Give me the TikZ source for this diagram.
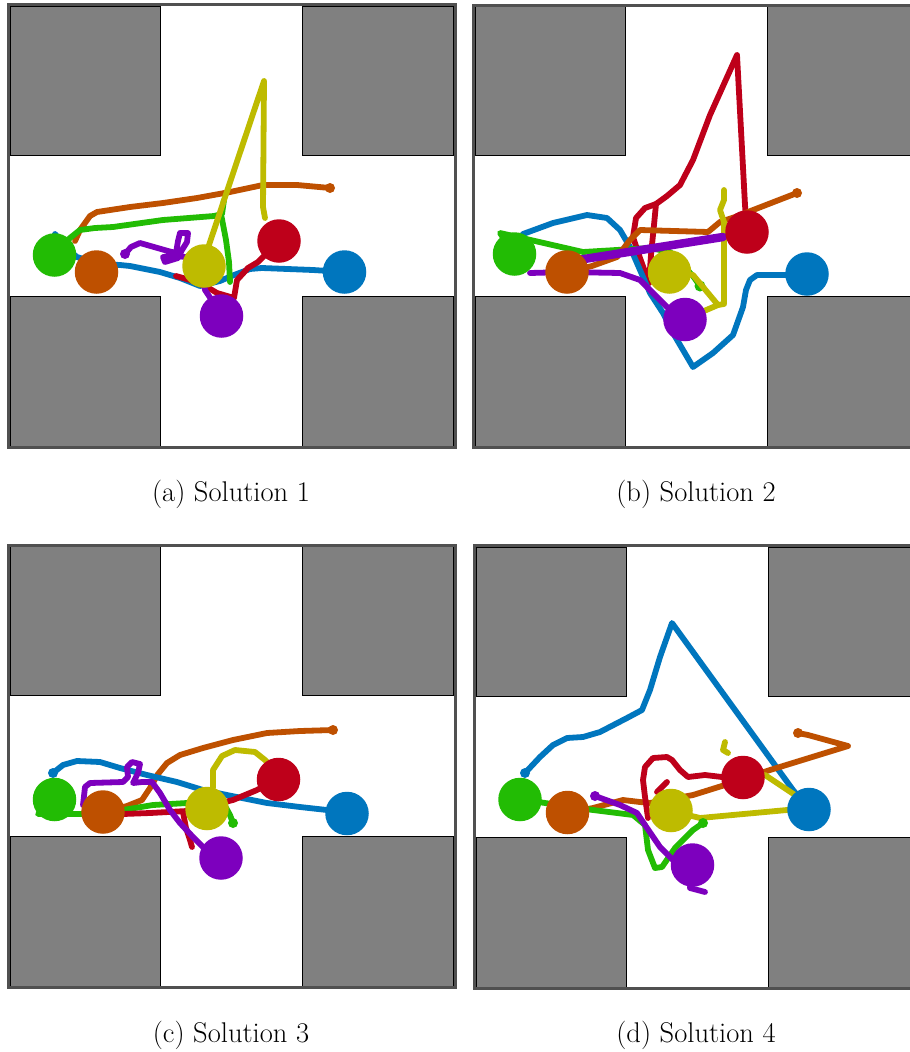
\documentclass[tikz,border=0pt]{standalone}
\definecolor{rgreen}{RGB}{34,188,4}
\definecolor{rorange}{RGB}{190,80,0}
\definecolor{ryellow}{RGB}{190,187,0}
\definecolor{rred}{RGB}{190,0,26}
\definecolor{rblue}{RGB}{0,118,190}
\definecolor{rpurple}{RGB}{125,0,190}
\definecolor{blockgray}{RGB}{128,128,128}
\definecolor{framegray}{RGB}{80,80,80}
\newcommand\drawarena{%
  \fill[white] (8.5,4.5) rectangle (455,447);
  \draw[blk] (10,6) rectangle (160.5,155);
  \draw[blk] (302,6) rectangle (453,155);
  \draw[blk] (10,296) rectangle (160.5,446);
  \draw[blk] (302,296) rectangle (453,446);
  \draw[frm] (8.5,4.5) rectangle (455,447);
}
\begin{document}
\begin{tikzpicture}[x=1pt,y=-1pt,
  traj/.style={line width=5.8pt,line join=round,line cap=round},
  bar/.style={line width=8.5pt,line join=round,line cap=round},
  robot/.style={circle,inner sep=0pt,minimum size=43.5pt},
  dot/.style={circle,inner sep=0pt,minimum size=10pt},
  blk/.style={fill=blockgray,draw=black,line width=0.8pt},
  frm/.style={draw=framegray,line width=3pt},
  captxt/.style={font=\fontsize{28.5}{32}\selectfont}]
\useasboundingbox (0,0) rectangle (910,1052);
\clip (0,0) rectangle (910,1052);
\fill[white] (0,0) rectangle (910,1052);
% arenas
\begin{scope}\drawarena\end{scope}
\begin{scope}[shift={(465,0.5)}]\drawarena\end{scope}
\begin{scope}[shift={(0,540.5)}]\drawarena\end{scope}
\begin{scope}[shift={(466,541)}]\drawarena\end{scope}

% ===== (a) =====
\draw[traj,rblue] (55,234) -- (66,248) -- (77,257) -- (100,264) -- (120,265) -- (130,266) -- (160,272) -- (180,278) -- (200,286) -- (220,281) -- (234,275) -- (250,269) -- (262,268) -- (313,270) -- (344,272);
\draw[traj,rorange] (75,241) -- (80,230) -- (90,216) -- (97,212) -- (130,207) -- (163,203) -- (197,198) -- (230,192) -- (263,185) -- (297,185) -- (330,188);
\node[dot,fill=rorange] (aoe) at (330,188) {};
\draw[traj,rgreen] (54,255) -- (70,238) -- (80,230) -- (95,228) -- (113,227) -- (163,220) -- (214,216) -- (222,214) -- (224,200) -- (221,214) -- (226,240) -- (229,262) -- (230,282);
\draw[traj,ryellow] (204,266) -- (209,245) -- (264,81) -- (263,207) -- (265,218);
\draw[traj,rred] (279,241) -- (258,262) -- (248,268) -- (237,280) -- (234,298) -- (217,293) -- (207,287) -- (190,280) -- (176,276);
\draw[traj,rpurple] (125,254) -- (131,247) -- (140,243) -- (168,251) -- (176,253) -- (178,241) -- (180,233) -- (188,233) -- (187,242) -- (182,250) -- (178,258) -- (165,262) -- (163,257) -- (176,256) -- (195,258) -- (203,275) -- (205,290) -- (215,305);
\node[dot,fill=rpurple] (aps) at (125,254) {};
\node[robot,fill=rgreen] (ag) at (54.5,255) {};
\node[robot,fill=rorange] (ao) at (96.5,272) {};
\node[robot,fill=ryellow] (ay) at (204,266) {};
\node[robot,fill=rred] (ar) at (279,241) {};
\node[robot,fill=rblue] (ab) at (344.5,272) {};
\node[robot,fill=rpurple] (ap) at (221.5,316) {};

% ===== (b) =====
\draw[traj,rred] (747,232) -- (745,205) -- (737,55) -- (710,115) -- (693,160) -- (680,185) -- (667,196) -- (656,204) -- (645,208) -- (636,218) -- (633,237) -- (640,258) -- (649,283);
\draw[traj,rred] (656,204) -- (654,225) -- (651,255) -- (649,283);
\draw[traj,rblue] (523,234) -- (553,223) -- (587,215) -- (607,218) -- (620,230) -- (630,247) -- (640,270) -- (650,293) -- (663,313) -- (673,333) -- (693,367) -- (713,353) -- (733,335) -- (743,307) -- (746,290) -- (750,280) -- (757,275) -- (787,275) -- (807,274);
\draw[traj,rgreen] (514,254) -- (500,233) -- (583,252) -- (650,248) -- (670,252) -- (693,276) -- (700,286);
\node[dot,fill=rgreen,minimum size=11pt] (bge) at (700,286) {};
\draw[traj,rorange] (567,272) -- (592,266) -- (617,257) -- (630,240) -- (640,230) -- (708,232) -- (720,222) -- (735,217) -- (797,193);
\node[dot,fill=rorange] (boe) at (797,193) {};
\draw[traj,ryellow] (669,272) -- (693,275) -- (708,293) -- (718,305) -- (724,304) -- (724,260) -- (724,222) -- (720,210) -- (724,200) -- (724,190);
\draw[traj,ryellow] (704,311) -- (718,305);
\draw[traj,rpurple] (530,273) -- (567,272) -- (620,273) -- (640,280) -- (653,293) -- (667,307) -- (685,319);
\draw[bar,rpurple] (578,260) -- (723,237);
\node[robot,fill=rgreen] (bg) at (514.5,254) {};
\node[robot,fill=rorange] (bo) at (567,272) {};
\node[robot,fill=ryellow] (by) at (669.5,272) {};
\node[robot,fill=rred] (br) at (747,232) {};
\node[robot,fill=rblue] (bb) at (807,274) {};
\node[robot,fill=rpurple] (bp) at (685,319.5) {};

% ===== (c) =====
\draw[traj,rorange] (103,812) -- (127,806) -- (142,800) -- (150,788) -- (158,774) -- (167,763) -- (180,755) -- (203,748) -- (233,740) -- (267,733) -- (300,731) -- (333,730);
\node[dot,fill=rorange] (coe) at (333,730) {};
\draw[traj,rblue] (53,773) -- (63,765) -- (77,761) -- (100,762) -- (120,768) -- (147,775) -- (177,782) -- (203,790) -- (227,795) -- (267,803) -- (300,807) -- (327,810) -- (347,813);
\node[dot,fill=rblue] (cbs) at (53,773) {};
\draw[traj,rgreen] (54,799) -- (38,814) -- (80,814) -- (123,810) -- (153,805) -- (187,803) -- (225,806) -- (230,815) -- (233,823);
\node[dot,fill=rgreen] (cge) at (233,823) {};
\draw[traj,rred] (278,779) -- (257,790) -- (233,800) -- (187,811) -- (150,813) -- (123,814);
\draw[traj,rred] (183,812) -- (186,828) -- (190,840) -- (192,847);
\draw[traj,rpurple] (83,805) -- (85,787) -- (90,783) -- (123,782) -- (128,777) -- (127,767) -- (132,762) -- (140,764) -- (138,773) -- (133,783) -- (142,782) -- (152,782) -- (160,793) -- (170,810) -- (180,823) -- (193,837) -- (203,847) -- (221,858);
\draw[traj,ryellow] (207,808) -- (213,787) -- (213,770) -- (222,756) -- (235,750) -- (255,752) -- (265,760) -- (275,770);
\node[robot,fill=rgreen] (cg) at (54.5,799.5) {};
\node[robot,fill=rorange] (co) at (103,812) {};
\node[robot,fill=ryellow] (cy) at (207,808.5) {};
\node[robot,fill=rred] (cr) at (278.5,779.5) {};
\node[robot,fill=rblue] (cb) at (347,813.5) {};
\node[robot,fill=rpurple] (cp) at (221,858) {};

% ===== (d) =====
\draw[traj,rblue] (525,773) -- (540,757) -- (553,745) -- (567,738) -- (583,737) -- (600,732) -- (627,718) -- (642,710) -- (650,690) -- (660,657) -- (672,623) -- (793,790) -- (809,809);
\node[dot,fill=rblue] (dbs) at (525,773) {};
\draw[traj,rorange] (567,813) -- (593,808) -- (623,800) -- (640,802) -- (650,803) -- (693,795) -- (725,785) -- (770,770) -- (848,746) -- (808,735) -- (798,733);
\node[dot,fill=rorange] (doe) at (798,733) {};
\draw[traj,rred] (743,777) -- (722,777) -- (705,775) -- (688,777) -- (680,770) -- (672,760) -- (667,757) -- (653,758) -- (645,767) -- (643,780) -- (645,797) -- (648,818);
\draw[traj,rred] (657,792) -- (667,782);
\draw[traj,ryellow] (671,811) -- (700,818) -- (787,810) -- (800,806);
\draw[traj,ryellow] (765,775) -- (795,795);
\draw[traj,ryellow] (725,742) -- (723,750) -- (728,753);
\draw[traj,rgreen] (520,799) -- (545,803) -- (593,810) -- (633,815) -- (645,825) -- (648,850) -- (655,868) -- (662,867) -- (675,848) -- (693,830) -- (703,823);
\node[dot,fill=rgreen] (dge) at (703,823) {};
\draw[traj,rpurple] (595,796) -- (620,805) -- (637,813) -- (647,828) -- (660,847) -- (675,862) -- (692,865) -- (690,888) -- (705,892);
\node[dot,fill=rpurple] (dps) at (595,796) {};
\node[robot,fill=rgreen] (dg) at (520,799.5) {};
\node[robot,fill=rorange] (do) at (567.5,812.5) {};
\node[robot,fill=ryellow] (dy) at (671,810.5) {};
\node[robot,fill=rred] (dr) at (743,777.5) {};
\node[robot,fill=rblue] (db) at (809,809.5) {};
\node[robot,fill=rpurple] (dp) at (692.5,865) {};

% captions
\node[captxt] (capa) at (231,494) {(a) Solution 1};
\node[captxt] (capb) at (696,494) {(b) Solution 2};
\node[captxt] (capc) at (231,1035) {(c) Solution 3};
\node[captxt] (capd) at (696,1035) {(d) Solution 4};
\end{tikzpicture}
\end{document}
